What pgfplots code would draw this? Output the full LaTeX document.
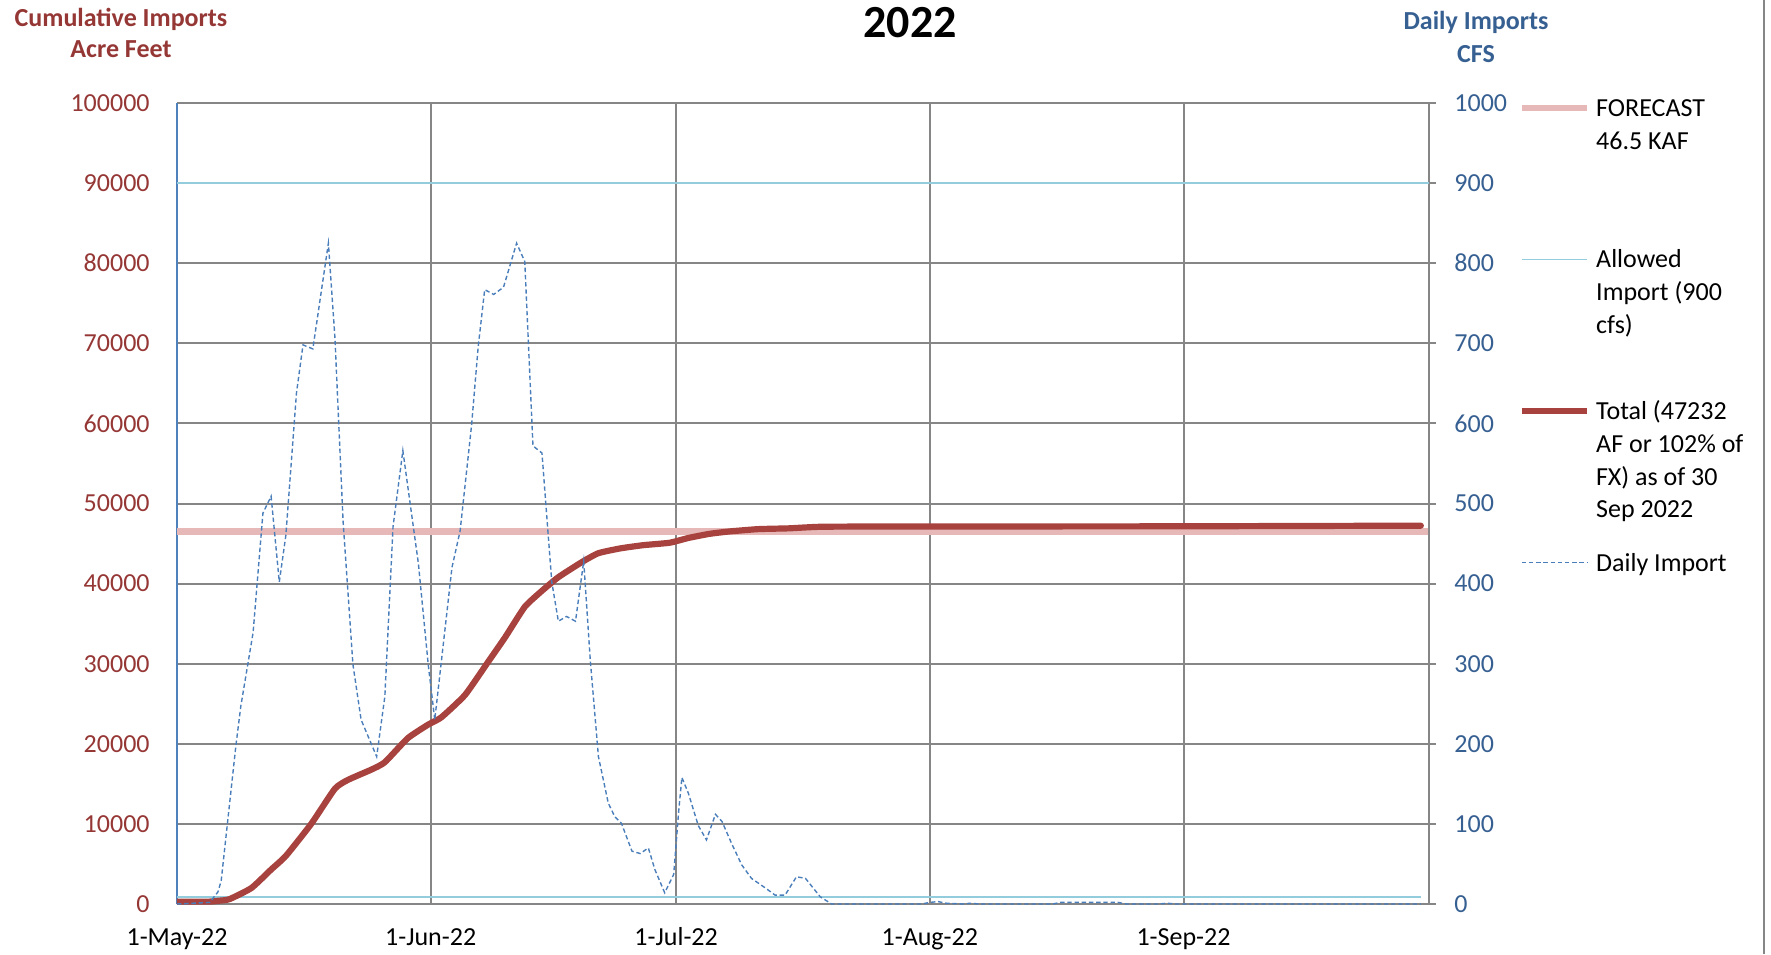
\documentclass[border=0pt]{standalone}
\usepackage{fontspec}
\setmainfont{Carlito}
\usepackage{pgfplots}
\pgfplotsset{compat=1.18}
\definecolor{totalc}{RGB}{168,66,62}
\definecolor{forecastc}{RGB}{230,184,183}
\definecolor{allowc}{RGB}{147,205,221}
\definecolor{dailyc}{RGB}{74,126,187}
\definecolor{gridc}{RGB}{134,134,134}
\definecolor{leftc}{RGB}{149,55,53}
\definecolor{rightc}{RGB}{55,96,146}
\definecolor{leftaxis}{RGB}{79,129,189}
\begin{document}
\begin{tikzpicture}
\useasboundingbox (0,0) rectangle (885.5pt,477pt);
\begin{axis}[
  at={(88.5pt,25pt)}, anchor=south west, scale only axis,
  width=626pt, height=400.5pt,
  xmin=0, xmax=153, ymin=0, ymax=100000,
  axis x line*=bottom, axis y line*=left,
  x axis line style={gridc, line width=1pt, -},
  y axis line style={leftaxis, line width=1pt, -},
  xtick={0,31,61,92,123},
  xticklabels={1-May-22,1-Jun-22,1-Jul-22,1-Aug-22,1-Sep-22},
  ytick distance=10000,
  grid=major, major grid style={gridc, line width=1pt},
  major tick length=0pt,
  scaled y ticks=false,
  ticklabel style={font=\fontsize{13}{15.6}\selectfont},
  yticklabel style={leftc, anchor=east, inner sep=0pt, xshift=-13.5pt,
    /pgf/number format/fixed, /pgf/number format/precision=0,
    /pgf/number format/1000 sep={}, /pgf/number format/assume math mode=true},
  xticklabel style={black, anchor=base, inner sep=0pt, yshift=-20.5pt},
]
\addplot[forecastc, line width=3.4pt] coordinates {(0,46500) (153,46500)};
\addplot[allowc, line width=0.8pt] coordinates {(0,900) (152,900)};
\addplot[totalc, line width=3.1pt, line join=round, line cap=round, smooth, tension=0.3] coordinates {
(0,300) (4,300) (5,400) (6.4,600) (9.1,2000) (11.5,4300) (13.3,6000) (16.4,10000)
(19.3,14400) (20.9,15500) (23.8,16800) (25.4,17700) (28.2,20700) (30.7,22400)
(32.3,23300) (35.2,26100) (38,30200) (40.1,33300) (42.5,37100) (44.6,39100)
(46.6,40800) (49.5,42700) (51.5,43800) (54.2,44400) (57,44800) (60.2,45100)
(62.5,45700) (65,46200) (67.4,46500) (71,46800) (74.8,46900) (78.9,47100)
(90,47130) (120,47150) (140,47200) (152,47232)};
\end{axis}
\begin{axis}[
  at={(88.5pt,25pt)}, anchor=south west, scale only axis,
  width=626pt, height=400.5pt,
  xmin=0, xmax=153, ymin=0, ymax=1000,
  axis x line=none, axis y line*=right,
  y axis line style={gridc, line width=1pt, -},
  ytick distance=100,
  tick align=outside, major tick length=3.5pt,
  major tick style={gridc, line width=1pt},
  ticklabel style={font=\fontsize{13}{15.6}\selectfont},
  yticklabel style={rightc, anchor=west, inner sep=0pt, xshift=9pt,
    /pgf/number format/fixed, /pgf/number format/precision=0,
    /pgf/number format/1000 sep={}, /pgf/number format/assume math mode=true},
  legend image code/.code={\draw[#1] (0pt,4.2pt) -- (32.7pt,4.2pt);},
  legend style={draw=none, fill=none, at={(1,1)}, anchor=north west,
    xshift=44.5pt, yshift=5pt, inner sep=0pt, row sep=0pt, column sep=2.8pt,
    font=\fontsize{13}{16.4}\selectfont,
    cells={anchor=base west},
    nodes={inner sep=0pt, text depth=}},
]
\addlegendimage{forecastc, line width=3.4pt}
\addlegendentry{\parbox[t]{90pt}{\strut FORECAST\\46.5 KAF\rule[-47.9pt]{0pt}{0pt}}}
\addplot[allowc, line width=0.8pt] coordinates {(0,900) (153,900)};
\addlegendentry{\parbox[t]{90pt}{\strut Allowed\\Import (900\\cfs)\rule[-31.5pt]{0pt}{0pt}}}
\addlegendimage{totalc, line width=3.1pt}
\addlegendentry{\parbox[t]{90pt}{\strut Total (47232\\AF or 102\% of\\FX) as of 30\\Sep 2022\rule[-15.1pt]{0pt}{0pt}}}
\addplot[dailyc, line width=0.7pt, dash pattern=on 2.2pt off 1.4pt] coordinates {
(0,0) (4,2) (5,15) (5.4,29) (7.2,198) (7.8,247) (9.3,339) (10.5,488) (11.5,509)
(12.5,402) (13.3,460) (14.6,638) (15.4,698) (16.6,693) (18.5,825) (19.3,707)
(20.3,477) (21.5,299) (22.5,230) (24.4,184) (25.4,259) (26.4,471) (27.6,566)
(29.5,425) (30.7,299) (31.5,230) (33.6,420) (34.6,466) (36,598) (36.8,695)
(37.6,767) (38.7,761) (39.9,770) (41.5,825) (42.5,802) (43.5,572) (44.6,563)
(45.8,402) (46.6,353) (47.6,359) (48.7,353) (49.7,428) (50.5,305) (51.5,184)
(52.7,126) (53.5,109) (54.3,101) (55.6,66) (56.6,63) (57.6,70) (58.4,43)
(59.6,14) (60.7,37) (61.3,115) (61.7,158) (62.5,138) (63.7,98) (64.7,80)
(65.8,112) (66.6,103) (67.8,75) (69,49) (70.2,32) (71.9,20) (73.1,11) (74.3,11)
(75.7,34) (76.8,32) (78.6,9) (80,0) (91,0) (92,2) (93,3) (94,1) (96,0) (97,1)
(98,0) (107,0) (108,2) (115,2) (116,0) (120,0) (121,1) (122,0) (152,0)};
\addlegendentry{\parbox[t]{90pt}{\strut Daily Import}}
\end{axis}
\node[font=\bfseries\fontsize{23}{27}\selectfont] at (455pt,465.7pt) {2022};
\node[font=\bfseries\fontsize{13}{15.8}\selectfont, text=leftc, align=center] at (60.5pt,460.6pt) {Cumulative Imports\\Acre Feet};
\node[font=\bfseries\fontsize{13}{16.5}\selectfont, text=rightc, align=center] at (738pt,458.75pt) {Daily Imports\\CFS};
\draw[gridc, line width=1pt] (882pt,0pt) -- (882pt,477pt);
\end{tikzpicture}
\end{document}
